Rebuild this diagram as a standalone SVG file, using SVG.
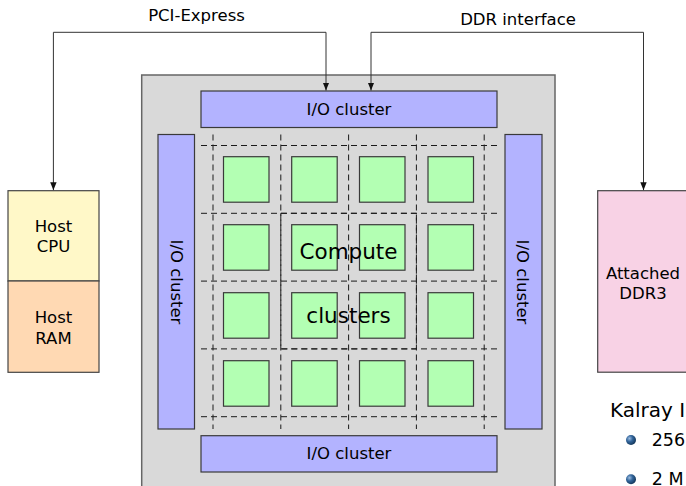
<svg xmlns="http://www.w3.org/2000/svg" width="686" height="486" viewBox="0 0 686 486">
  <defs>
    <style>
      text { font-family: "DejaVu Sans", "Liberation Sans", sans-serif; fill: #000; }
      .lbl { font-size: 16.5px; text-anchor: middle; }
      .big { font-size: 21.5px; text-anchor: middle; }
      .io { fill: #b3b3ff; stroke: #3a3a3a; stroke-width: 1.2; }
      .cc { fill: #b3ffb3; stroke: #3a3a3a; stroke-width: 1.2; }
      .grid { fill: none; stroke: #1a1a1a; stroke-width: 1; stroke-dasharray: 6 4; }
      .link { fill: none; stroke: #333; stroke-width: 1; marker-start: url(#arrow); marker-end: url(#arrow); }
    </style>
    <marker id="arrow" viewBox="0 0 8 8" refX="8" refY="4" markerWidth="8" markerHeight="8" markerUnits="userSpaceOnUse" orient="auto-start-reverse">
      <path d="M0,0.8 L8,4 L0,7.2 Z" fill="#111"/>
    </marker>
    <radialGradient id="ball" cx="0.35" cy="0.35" r="0.7">
      <stop offset="0" stop-color="#9dbde0"/>
      <stop offset="0.45" stop-color="#33669c"/>
      <stop offset="1" stop-color="#123456"/>
    </radialGradient>
  </defs>

  <!-- interface labels -->
  <text class="lbl" x="196.5" y="21">PCI-Express</text>
  <text class="lbl" x="518" y="25">DDR interface</text>

  <!-- chip body -->
  <g id="chip">
    <rect x="141.7" y="75" width="413.3" height="430" fill="#d9d9d9" stroke="#666" stroke-width="1.5"/>
  </g>

  <!-- I/O clusters -->
  <g id="io-top">
    <rect class="io" x="201" y="91" width="296" height="36.5"/>
    <text class="lbl" x="349" y="115">I/O cluster</text>
  </g>
  <g id="io-bottom">
    <rect class="io" x="201" y="435.7" width="296" height="36.3"/>
    <text class="lbl" x="349" y="459">I/O cluster</text>
  </g>
  <g id="io-left">
    <rect class="io" x="158" y="134.5" width="36.5" height="294.5"/>
    <text class="lbl" transform="translate(176.5,282) rotate(90)" x="0" y="6">I/O cluster</text>
  </g>
  <g id="io-right">
    <rect class="io" x="505" y="134.5" width="37" height="294.5"/>
    <text class="lbl" transform="translate(522.5,282) rotate(90)" x="0" y="6">I/O cluster</text>
  </g>

  <!-- dashed network-on-chip grid -->
  <g id="noc">
    <path class="grid" d="M201,145.5 H497 M201,213.3 H497 M201,281.1 H497 M201,348.9 H497 M201,416.7 H497"/>
    <path class="grid" d="M213,134.5 V429 M280.8,134.5 V429 M348.6,134.5 V429 M416.4,134.5 V429 M484.2,134.5 V429"/>
  </g>

  <!-- compute clusters 4x4 -->
  <g id="compute-tiles">
    <rect class="cc" x="223.5" y="156.7" width="45.5" height="45.5"/>
    <rect class="cc" x="291.7" y="156.7" width="45.5" height="45.5"/>
    <rect class="cc" x="359.5" y="156.7" width="45.5" height="45.5"/>
    <rect class="cc" x="428" y="156.7" width="45.5" height="45.5"/>
    <rect class="cc" x="223.5" y="224.7" width="45.5" height="45.5"/>
    <rect class="cc" x="291.7" y="224.7" width="45.5" height="45.5"/>
    <rect class="cc" x="359.5" y="224.7" width="45.5" height="45.5"/>
    <rect class="cc" x="428" y="224.7" width="45.5" height="45.5"/>
    <rect class="cc" x="223.5" y="292.7" width="45.5" height="45.5"/>
    <rect class="cc" x="291.7" y="292.7" width="45.5" height="45.5"/>
    <rect class="cc" x="359.5" y="292.7" width="45.5" height="45.5"/>
    <rect class="cc" x="428" y="292.7" width="45.5" height="45.5"/>
    <rect class="cc" x="223.5" y="360.7" width="45.5" height="45.5"/>
    <rect class="cc" x="291.7" y="360.7" width="45.5" height="45.5"/>
    <rect class="cc" x="359.5" y="360.7" width="45.5" height="45.5"/>
    <rect class="cc" x="428" y="360.7" width="45.5" height="45.5"/>
  </g>
  <g id="compute-label">
    <rect class="grid" x="280.8" y="213.3" width="135.6" height="135.6"/>
    <text class="big" x="348.5" y="259">Compute</text>
    <text class="big" x="348.5" y="323.3">clusters</text>
  </g>

  <!-- host side -->
  <g id="host-cpu">
    <rect x="8" y="190.7" width="91" height="90.3" fill="#fff8c8" stroke="#444" stroke-width="1.2"/>
    <text class="lbl" x="53.5" y="231.7">Host</text>
    <text class="lbl" x="53.5" y="252.3">CPU</text>
  </g>
  <g id="host-ram">
    <rect x="8" y="281" width="91" height="91.3" fill="#ffd9b3" stroke="#444" stroke-width="1.2"/>
    <text class="lbl" x="53.5" y="323.3">Host</text>
    <text class="lbl" x="53.5" y="344">RAM</text>
  </g>

  <!-- attached memory -->
  <g id="ddr3">
    <rect x="597.7" y="190.7" width="100" height="181.5" fill="#f8d2e5" stroke="#444" stroke-width="1.2"/>
    <text class="lbl" x="643" y="279">Attached</text>
    <text class="lbl" x="643" y="299.3">DDR3</text>
  </g>

  <!-- connectors -->
  <g id="connectors">
    <path class="link" d="M326,90.5 V32.3 H53.4 V190.2"/>
    <path class="link" d="M643.5,190.2 V32.3 H371 V90.5"/>
  </g>

  <!-- side notes -->
  <g id="notes">
    <text x="610" y="416.7" font-size="20px">Kalray I</text>
    <circle cx="631" cy="440" r="5" fill="url(#ball)"/>
    <text x="651.7" y="446" font-size="17.5px">256</text>
    <circle cx="631" cy="479.3" r="5" fill="url(#ball)"/>
    <text x="651.7" y="485" font-size="17.5px">2 M</text>
  </g>
</svg>
